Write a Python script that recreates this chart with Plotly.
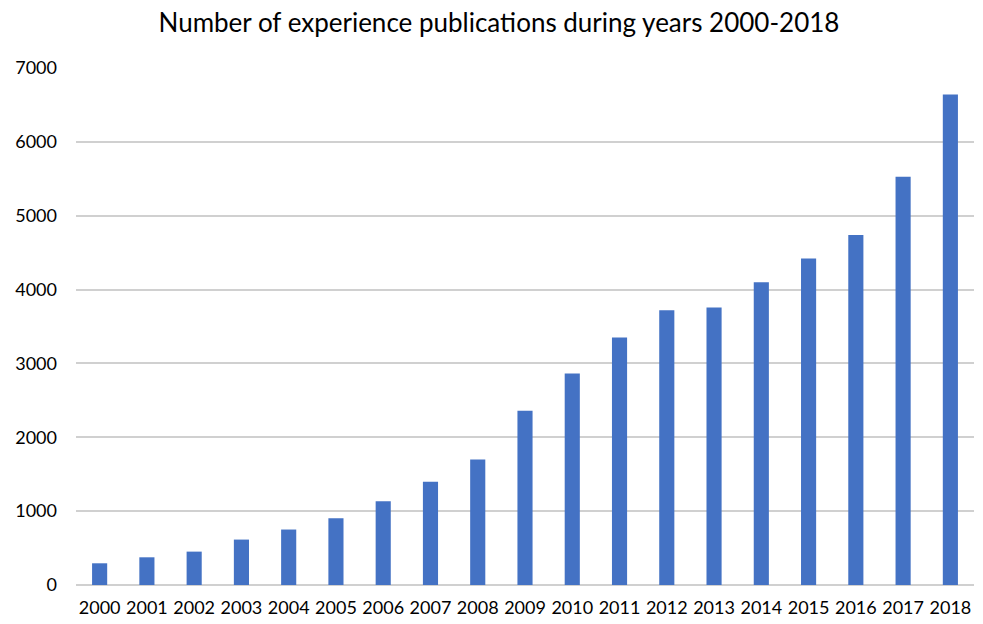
import plotly.graph_objects as go

years = [str(y) for y in range(2000, 2019)]
publications = [294, 375, 452, 615, 751, 905, 1135, 1398, 1700, 2360, 2865, 3351,
                3721, 3757, 4099, 4420, 4739, 5527, 6640]
y_ticks = [0, 1000, 2000, 3000, 4000, 5000, 6000, 7000]

fig = go.Figure(go.Bar(x=years, y=publications, marker_color="#4472C4",
                       marker_line_width=0))

fig.update_layout(
    width=983, height=624,
    margin=dict(l=76, r=9, t=68, b=39),
    paper_bgcolor="white", plot_bgcolor="white",
    bargap=0.68,
    title=dict(text="Number of experience publications during years 2000-2018",
               x=0.5076, xanchor="center", y=0.963, yanchor="middle",
               font=dict(family="Lato, Open Sans, sans-serif", size=26, color="#000000")),
    font=dict(family="Lato, Open Sans, sans-serif", size=18, color="#000000"),
    showlegend=False,
)
fig.update_xaxes(type="category", showgrid=False, showline=False, ticks="",
                 automargin=False, ticklabelstandoff=10, tickfont=dict(size=18))
fig.update_yaxes(range=[0, 7000], tickvals=y_ticks, showgrid=True,
                 gridcolor="#D0D0D0", gridwidth=1.5, zeroline=True,
                 zerolinecolor="#D0D0D0", zerolinewidth=1.5, showline=False,
                 automargin=False, ticks="", ticklabelstandoff=18,
                 tickfont=dict(size=18))

fig.write_html("out.html")
